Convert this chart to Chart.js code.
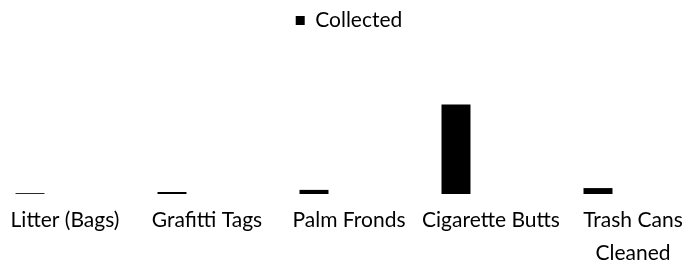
<!DOCTYPE html>
<html>
<head>
<meta charset="utf-8">
<script src="https://cdn.jsdelivr.net/npm/chart.js@4"></script>
<style>
    body { margin: 0; background: #fff; overflow: hidden; }
    #wrap { position: absolute; left: -6px; top: 0; width: 710px; height: 272px; }
</style>
</head>
<body>
<div id="wrap"><canvas id="cleanupChart"></canvas></div>
<script>
// Data
const categories = ['Litter (Bags)', 'Grafitti Tags', 'Palm Fronds', 'Cigarette Butts', ['Trash Cans', 'Cleaned']];
const collected = [6, 14, 28, 600, 40];
const spacer = [null, null, null, null, null]; // empty second slot, as in the original grouped chart

new Chart(document.getElementById('cleanupChart').getContext('2d'), {
    type: 'bar',
    data: {
        labels: categories,
        datasets: [{
            label: 'Collected',
            data: collected,
            backgroundColor: '#000000',
            categoryPercentage: 0.986,
            barPercentage: 0.414
        }, {
            label: '',
            data: spacer,
            backgroundColor: '#ffffff',
            categoryPercentage: 0.986,
            barPercentage: 0.414
        }]
    },
    options: {
        responsive: true,
        maintainAspectRatio: false,
        animation: false,
        layout: { padding: { top: 2, bottom: 0, left: 0, right: 0 } },
        plugins: {
            legend: {
                position: 'top',
                labels: {
                    filter: item => item.datasetIndex === 0,
                    boxWidth: 9,
                    boxHeight: 9,
                    padding: 8,
                    color: '#000',
                    font: { family: 'Lato', size: 21 }
                }
            },
            tooltip: { enabled: false }
        },
        scales: {
            x: {
                grid: { display: false },
                border: { display: false },
                ticks: {
                    color: '#000',
                    maxRotation: 0,
                    autoSkip: false,
                    padding: 2,
                    font: { family: 'Lato', size: 21, lineHeight: 1.57 }
                }
            },
            y: {
                display: false,
                min: 0,
                max: 1025
            }
        }
    }
});
</script>
</body>
</html>
